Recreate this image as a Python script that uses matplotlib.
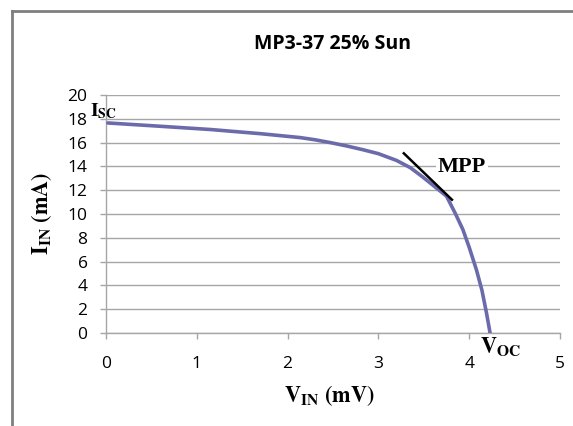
import matplotlib
matplotlib.use('Agg')
from matplotlib import pyplot as plt
from matplotlib.lines import Line2D

# I-V curve
v_in = [0.02, 0.5, 1.15, 1.7, 2.14, 2.3, 2.47, 2.65, 2.83, 3.0, 3.2, 3.35, 3.49, 3.62, 3.75, 3.85,
        3.93, 4.0, 4.08, 4.14, 4.19, 4.23]
i_in = [17.65, 17.42, 17.1, 16.75, 16.42, 16.24, 16.0, 15.72, 15.4, 15.07, 14.5, 13.9, 13.1, 12.3, 11.5, 10.0,
        8.7, 7.2, 5.3, 3.6, 1.7, 0.0]

# tangent at the maximum power point
mpp_v = [3.28, 3.81]
mpp_i = [15.1, 11.2]

x_ticks = [0, 1, 2, 3, 4, 5]
y_ticks = [0, 2, 4, 6, 8, 10, 12, 14, 16, 18, 20]

plt.rcParams['mathtext.fontset'] = 'stix'
plt.rcParams['font.family'] = ['Open Sans', 'DejaVu Sans']

W, H = 573, 426
fig = plt.figure(figsize=(W / 100, H / 100), dpi=100)
ax = fig.add_axes([106 / W, 1 - 333 / H, 454 / W, 238 / H])

grid_col = '#a6a6a6'
ax.plot(v_in, i_in, color='#6b6bab', lw=2.6, solid_capstyle='round', solid_joinstyle='round', zorder=3)
ax.plot(mpp_v, mpp_i, color='black', lw=1.8, zorder=4)

ax.set_xlim(0, 5)
ax.set_ylim(0, 20)
ax.set_xticks(x_ticks)
ax.set_yticks(y_ticks)
ax.yaxis.grid(True, color=grid_col, lw=1.0)
ax.set_axisbelow(True)
for s in ['top', 'right']:
    ax.spines[s].set_visible(False)
for s in ['left', 'bottom']:
    ax.spines[s].set_color(grid_col)
    ax.spines[s].set_linewidth(1.0)
ax.tick_params(axis='both', colors=grid_col, length=4.3, width=1.0, labelcolor='black', labelsize=12.5)
ax.tick_params(axis='x', pad=12)
ax.tick_params(axis='y', pad=9)

fig.text(332 / W, 1 - 44 / H, 'MP3-37 25% Sun', fontsize=14, fontweight='bold', ha='center', va='center')
fig.text(329 / W, 1 - 396 / H, r'$\mathbf{V_{IN}\ (mV)}$', fontsize=16, ha='center', va='center')
fig.text(42 / W, 1 - 213 / H, r'$\mathbf{I_{IN}\ (mA)}$', fontsize=16, rotation=90, ha='center', va='center')

ax.text(-0.176, 18.2, r'$\mathbf{I_{SC}}$', fontsize=14, ha='left', va='baseline')
ax.text(3.656, 13.53, 'MPP', fontsize=16, fontweight='bold', family='Liberation Serif',
        ha='left', va='baseline', bbox=dict(facecolor='white', edgecolor='none', pad=1.5))
ax.text(4.119, -1.74, r'$\mathbf{V_{OC}}$', fontsize=16, ha='left', va='baseline')

# outer frame
fig.add_artist(Line2D([12 / W, 12 / W], [0.0, 1 - 11 / H], transform=fig.transFigure, color='#7f7f7f', lw=2.0))
fig.add_artist(Line2D([12 / W, 1.0], [1 - 11 / H, 1 - 11 / H], transform=fig.transFigure, color='#7f7f7f', lw=2.0))

fig.savefig('out.png', dpi=100)
